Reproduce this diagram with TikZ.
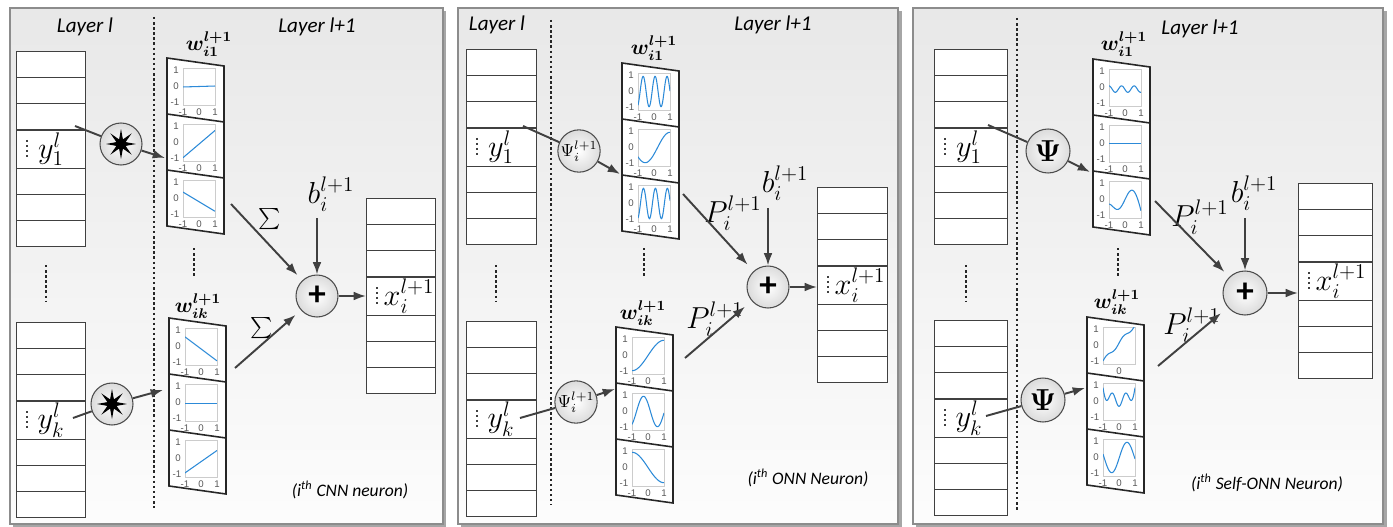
\documentclass[tikz,border=0pt]{standalone}
\usepackage{amsmath,bm}
\usepackage{fontspec}
\setmainfont{Carlito}
\newfontfamily\tickfont{Liberation Sans}
\usetikzlibrary{arrows.meta,shapes.geometric}
\definecolor{wblue}{HTML}{2C8AD8}
\definecolor{conngray}{HTML}{404040}
\tikzset{
  panel/.style={draw=black!45,line width=0.6pt,top color=black!9,bottom color=black!1},
  panelshadow/.style={fill=black!35},
  cell/.style={draw=black!75,fill=white,line width=0.5pt},
  card/.style={draw=black!85,fill=white,line width=0.9pt},
  plotbox/.style={draw=black!20,fill=white,line width=0.3pt},
  ticklab/.style={font=\tickfont\fontsize{5.5}{5.5}\selectfont,text=black!65,inner sep=0pt},
  wave/.style={draw=wblue,line width=0.6pt},
  feed/.style={draw=conngray,line width=1.1pt},
  conn/.style={feed,-{Latex[length=7pt,width=5pt]}},
  sepline/.style={draw=black!85,line width=1.6pt,dash pattern=on 1.4pt off 1.5pt},
  vdots/.style={sepline},
  celldots/.style={draw=black!75,line width=1.4pt,dash pattern=on 1.4pt off 1.4pt},
  opnode/.style={circle,draw=black!70,line width=0.6pt,inner color=white,outer color=black!14,minimum size=0.84cm,inner sep=0pt},
  starmark/.style={star,star points=8,star point ratio=3,fill=black,minimum size=0.6cm,inner sep=0pt},
  pluslab/.style={font=\fontsize{20}{20}\selectfont\bfseries},
  layerlab/.style={font=\fontsize{12}{14}\selectfont\itshape},
  notelab/.style={font=\fontsize{10}{12}\selectfont\itshape},
  mathlab/.style={font=\fontsize{17}{19}\selectfont,inner sep=0pt},
  wlab/.style={font=\fontsize{12}{14}\selectfont,inner sep=0pt},
  sumlab/.style={font=\fontsize{12}{14}\selectfont,inner sep=0pt}
}
% one column of neurons: x, top, width
\newcommand{\layercol}[3]{%
  \foreach \i in {0,1,2}{
    \draw[cell] (#1,{#2+26.3*\i}) rectangle ++(#3,26.3);
    \draw[cell] (#1,{#2+117+26.3*\i}) rectangle ++(#3,26.3);
  }
  \draw[cell] (#1,{#2+79}) rectangle ++(#3,38);
  \draw[celldots] ({#1+11},{#2+89}) -- ({#1+11},{#2+107});
}
% slanted card with three cells: left, top
\newcommand{\filtercard}[2]{%
  \begin{scope}[shift={(#1,#2)}]
    \draw[card] (0,0) -- (57,8) -- (57,176) -- (0,168) -- cycle;
    \draw[card] (0,56) -- (57,64) (0,112) -- (57,120);
  \end{scope}
}
% small plot in one cell: [x ticks] left, cell top, curve in \u
\newcommand{\miniplot}[4][-1,0,1]{%
  \begin{scope}[shift={(#2,#3)},name prefix=m#2-#3-]
    \draw[plotbox] (16,10) rectangle (48,47);
    \node[ticklab] (t1) at (9,12) {1};
    \node[ticklab] (t0) at (9,28.5) {0};
    \node[ticklab] (tm) at (8,44) {-1};
    \foreach \t in {#1}
      \node[ticklab] (b\t) at ({32+16*(\t)},54) {\t};
    \begin{scope}
      \clip (16,10) rectangle (48,47);
      \draw[wave,domain=-1:1,samples=60,variable=\u] plot ({32+16*\u},{28.5-16*(#4)});
    \end{scope}
  \end{scope}
}
\begin{document}
\begin{tikzpicture}[x=0.02cm,y=-0.02cm]
\useasboundingbox (0,0) rectangle (1393,527);
%panel CNN
\fill[panelshadow] (13,11) rectangle (446,527);
\draw[panel] (10,8) rectangle (443,524);
\node[layerlab] (c-lla) at (85,27) {Layer l};
\node[layerlab] (c-llb) at (317,27) {Layer l+1};
\draw[sepline] (154,17) -- (154,508);
\layercol{16}{51}{69}
\layercol{16}{322}{69}
\layercol{366}{198}{69}
\draw[vdots] (46,265) -- (46,302);
\draw[vdots] (194,248) -- (194,276);
\node[mathlab] (c-ya) at (51,149) {$y_1^l$};
\node[mathlab] (c-yb) at (51,420) {$y_k^l$};
\node[mathlab] (c-x) at (409,296) {$x_i^{l+1}$};
\filtercard{167}{58}
\miniplot{167}{58}{0.03*\u}
\miniplot{167}{114}{-0.1+0.85*\u}
\miniplot{167}{170}{-0.2-0.6*\u}
\filtercard{169}{318}
\miniplot{169}{318}{-0.15-0.75*\u}
\miniplot{169}{374}{-0.05}
\miniplot{169}{430}{-0.2+0.7*\u}
\node[wlab] (c-wa) at (209,44) {$\bm{w_{i1}^{l+1}}$};
\node[wlab] (c-wb) at (198,306) {$\bm{w_{ik}^{l+1}}$};
\node[opnode] (c-opa) at (121,144) {};
\node[starmark] (c-sta) at (c-opa) {};
\node[opnode] (c-opb) at (112,404) {};
\node[starmark] (c-stb) at (c-opb) {};
\node[opnode,pluslab] (c-plus) at (317,296) {+};
\node[mathlab] (c-b) at (331,194) {$b_i^{l+1}$};
\node[sumlab] (c-sa) at (270,219) {$\sum$};
\node[sumlab] (c-sb) at (262,328) {$\sum$};
\node[notelab] (c-note) at (350,490) {(i\textsuperscript{th} CNN neuron)};
\coordinate (c-ina) at (75,126);
\coordinate (c-fain) at (165,158);
\coordinate (c-faout) at (231,204);
\coordinate (c-inb) at (73,418);
\coordinate (c-fbin) at (163,390);
\coordinate (c-fbout) at (235,368);
\coordinate (c-btop) at (317,218);
\coordinate (c-out) at (366,296);
\draw[feed] (c-ina) -- (c-opa);
\draw[conn] (c-opa) -- (c-fain);
\draw[feed] (c-inb) -- (c-opb);
\draw[conn] (c-opb) -- (c-fbin);
\draw[conn,shorten >=4pt] (c-faout) -- (c-plus);
\draw[conn,shorten >=4pt] (c-fbout) -- (c-plus);
\draw[conn] (c-btop) -- (c-plus);
\draw[conn] (c-plus) -- (c-out);
%panel ONN
\fill[panelshadow] (461,11) rectangle (902,527);
\draw[panel] (458,8) rectangle (898,524);
\node[layerlab] (o-lla) at (497,25) {Layer l};
\node[layerlab] (o-llb) at (773,25) {Layer l+1};
\draw[sepline] (551,20) -- (551,505);
\layercol{466}{49}{70}
\layercol{466}{321}{70}
\layercol{817}{187}{70}
\draw[vdots] (496,265) -- (496,302);
\draw[vdots] (644,248) -- (644,276);
\node[mathlab] (o-ya) at (501,147) {$y_1^l$};
\node[mathlab] (o-yb) at (501,419) {$y_k^l$};
\node[mathlab] (o-x) at (860,285) {$x_i^{l+1}$};
\filtercard{622}{63}
\miniplot{622}{63}{0.95*cos(deg(8.4*(\u+0.68)))}
\miniplot{622}{119}{-0.95*cos(deg(2.03*(\u+0.55)))}
\miniplot{622}{175}{0.95*cos(deg(8.4*(\u+0.66)))}
\filtercard{616}{327}
\miniplot{616}{327}{0.95*sin(deg(1.5708*\u))}
\miniplot{616}{383}{0.95*sin(deg(3.6*(\u+0.72)))}
\miniplot{616}{439}{-0.95*sin(deg(1.5708*\u))}
\node[wlab] (o-wa) at (654,48) {$\bm{w_{i1}^{l+1}}$};
\node[wlab] (o-wb) at (643,313) {$\bm{w_{ik}^{l+1}}$};
\node[opnode] (o-opa) at (579,151) {\fontsize{10}{10}\selectfont$\Psi_i^{l+1}$};
\node[opnode] (o-opb) at (576,402) {\fontsize{10}{10}\selectfont$\Psi_i^{l+1}$};
\node[opnode,pluslab] (o-plus) at (768,287) {+};
\node[mathlab] (o-b) at (785,183) {$b_i^{l+1}$};
\node[mathlab] (o-pa) at (733,213) {$P_i^{l+1}$};
\node[mathlab] (o-pb) at (715,319) {$P_i^{l+1}$};
\node[notelab] (o-note) at (808,478) {(i\textsuperscript{th} ONN Neuron)};
\coordinate (o-ina) at (523,126);
\coordinate (o-fain) at (620,174);
\coordinate (o-faout) at (683,194);
\coordinate (o-inb) at (520,418);
\coordinate (o-fbin) at (615,389);
\coordinate (o-fbout) at (685,358);
\coordinate (o-btop) at (768,208);
\coordinate (o-out) at (817,287);
\draw[feed] (o-ina) -- (o-opa);
\draw[conn] (o-opa) -- (o-fain);
\draw[feed] (o-inb) -- (o-opb);
\draw[conn] (o-opb) -- (o-fbin);
\draw[conn,shorten >=5pt] (o-faout) -- (o-plus);
\draw[conn,shorten >=5pt] (o-fbout) -- (o-plus);
\draw[conn] (o-btop) -- (o-plus);
\draw[conn] (o-plus) -- (o-out);
%panel Self-ONN
\fill[panelshadow] (916,11) rectangle (1387,527);
\draw[panel] (913,8) rectangle (1383,524);
\node[layerlab] (s-llb) at (1200,29) {Layer l+1};
\draw[sepline] (1017,18) -- (1017,510);
\layercol{934}{49}{73}
\layercol{934}{320}{73}
\layercol{1298}{183}{74}
\draw[vdots] (966,265) -- (966,302);
\draw[vdots] (1118,248) -- (1118,276);
\node[mathlab] (s-ya) at (969,147) {$y_1^l$};
\node[mathlab] (s-yb) at (969,418) {$y_k^l$};
\node[mathlab] (s-x) at (1341,281) {$x_i^{l+1}$};
\filtercard{1093}{59}
\miniplot{1093}{59}{-0.1+0.2*cos(deg(8*(\u+1)))}
\miniplot{1093}{115}{0}
\miniplot{1093}{171}{0.6*sin(deg(3.5*\u))-0.5*\u*\u*\u*\u}
\filtercard{1087}{317}
\miniplot[0]{1087}{317}{1.15*\u+0.15+0.12*sin(deg(6*\u))}
\miniplot{1087}{373}{0.1-0.4*cos(deg(7.5*\u))+0.9*\u*\u*\u*\u}
\miniplot{1087}{429}{0.95*sin(deg(3.3*(\u-0.02)))}
\node[wlab] (s-wa) at (1124,44) {$\bm{w_{i1}^{l+1}}$};
\node[wlab] (s-wb) at (1117,302) {$\bm{w_{ik}^{l+1}}$};
\node[opnode,minimum size=0.88cm] (s-opa) at (1048,151) {\fontsize{16}{16}\selectfont$\bm{\Psi}$};
\node[opnode,minimum size=0.88cm] (s-opb) at (1043,400) {\fontsize{16}{16}\selectfont$\bm{\Psi}$};
\node[opnode,minimum size=0.88cm,pluslab] (s-plus) at (1245,293) {+};
\node[mathlab] (s-b) at (1254,193) {$b_i^{l+1}$};
\node[mathlab] (s-pa) at (1200,217) {$P_i^{l+1}$};
\node[mathlab] (s-pb) at (1192,325) {$P_i^{l+1}$};
\node[notelab] (s-note) at (1267,483) {(i\textsuperscript{th} Self-ONN Neuron)};
\coordinate (s-ina) at (988,125);
\coordinate (s-fain) at (1090,172);
\coordinate (s-faout) at (1155,201);
\coordinate (s-inb) at (986,416);
\coordinate (s-fbin) at (1085,388);
\coordinate (s-fbout) at (1158,366);
\coordinate (s-btop) at (1245,218);
\coordinate (s-out) at (1298,293);
\draw[feed] (s-ina) -- (s-opa);
\draw[conn] (s-opa) -- (s-fain);
\draw[feed] (s-inb) -- (s-opb);
\draw[conn] (s-opb) -- (s-fbin);
\draw[conn,shorten >=4pt] (s-faout) -- (s-plus);
\draw[conn,shorten >=5pt] (s-fbout) -- (s-plus);
\draw[conn] (s-btop) -- (s-plus);
\draw[conn] (s-plus) -- (s-out);
\end{tikzpicture}
\end{document}
